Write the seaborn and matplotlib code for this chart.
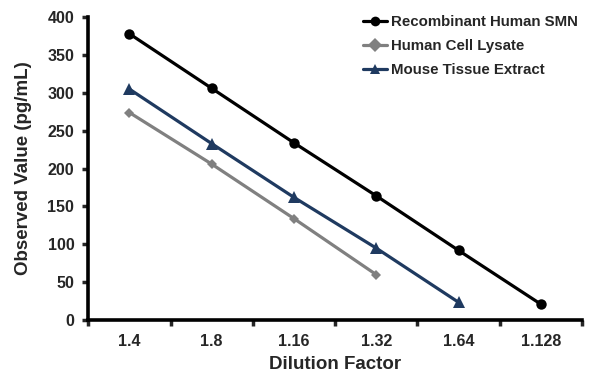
import matplotlib
matplotlib.use("Agg")
import matplotlib.pyplot as plt
import seaborn as sns
import pandas as pd
import numpy as np
from matplotlib.ticker import FixedLocator

categories = ["1.4", "1.8", "1.16", "1.32", "1.64", "1.128"]
recombinant = [378, 306, 234, 164, 92, 21]
lysate = [274, 206, 134, 60]
mouse = [305, 233, 162, 95, 23.5]
series_names = ["Recombinant Human SMN", "Human Cell Lysate", "Mouse Tissue Extract"]
colors = ["#000000", "#808080", "#1F3A60"]
markers = ["o", "D", "^"]

rows = []
for name, vals in zip(series_names, [recombinant, lysate, mouse]):
    for i, v in enumerate(vals):
        rows.append({"pos": i, "value": v, "series": name})
df = pd.DataFrame(rows)

sns.set_theme(style="white")
plt.rcParams["font.family"] = ["Liberation Sans", "DejaVu Sans"]

fig = plt.figure(figsize=(6, 3.88), dpi=100)
ax = fig.add_axes([0.147, 0.175, 0.823, 0.781])

sns.lineplot(data=df, x="pos", y="value", hue="series", style="series",
             hue_order=series_names, style_order=series_names,
             palette=colors, markers=dict(zip(series_names, markers)),
             dashes=False, linewidth=2.3, markersize=7, markeredgewidth=0,
             ax=ax, legend=True)
for line, ms in zip(ax.get_lines()[:3], [7.5, 5.5, 8]):
    line.set_markersize(ms)

ax.set_xlim(-0.5, 5.5)
ax.set_ylim(0, 400)
ax.set_yticks(np.arange(0, 401, 50))
ax.set_xticks(range(len(categories)))
ax.set_xticklabels(categories)
ax.xaxis.set_minor_locator(FixedLocator(np.arange(-0.5, 5.6, 1)))
ax.tick_params(axis="x", which="major", length=0, pad=10)
ax.tick_params(axis="x", which="minor", length=4, width=2.5, direction="out", bottom=True)
ax.tick_params(axis="y", which="major", length=4, width=2.5, direction="out", left=True, pad=6)
for lbl in ax.get_xticklabels() + ax.get_yticklabels():
    lbl.set_fontweight("bold")
    lbl.set_fontsize(11.5)

for s in ["top", "right"]:
    ax.spines[s].set_visible(False)
for s in ["left", "bottom"]:
    ax.spines[s].set_linewidth(2.6)
    ax.spines[s].set_color("black")

ax.set_xlabel("Dilution Factor", fontsize=13.5, fontweight="bold", labelpad=5)
ax.set_ylabel("Observed Value (pg/mL)", fontsize=13.5, fontweight="bold", labelpad=11)

handles, labels = ax.get_legend_handles_labels()
leg = ax.legend(handles, labels, loc="upper left", bbox_to_anchor=(0.53, 1.05),
                frameon=False, prop={"weight": "bold", "size": 10.8},
                handlelength=1.6, handletextpad=0.25, labelspacing=0.65)
for h in leg.legend_handles:
    h.set_linewidth(2.3)

fig.savefig("out.png", dpi=100)
